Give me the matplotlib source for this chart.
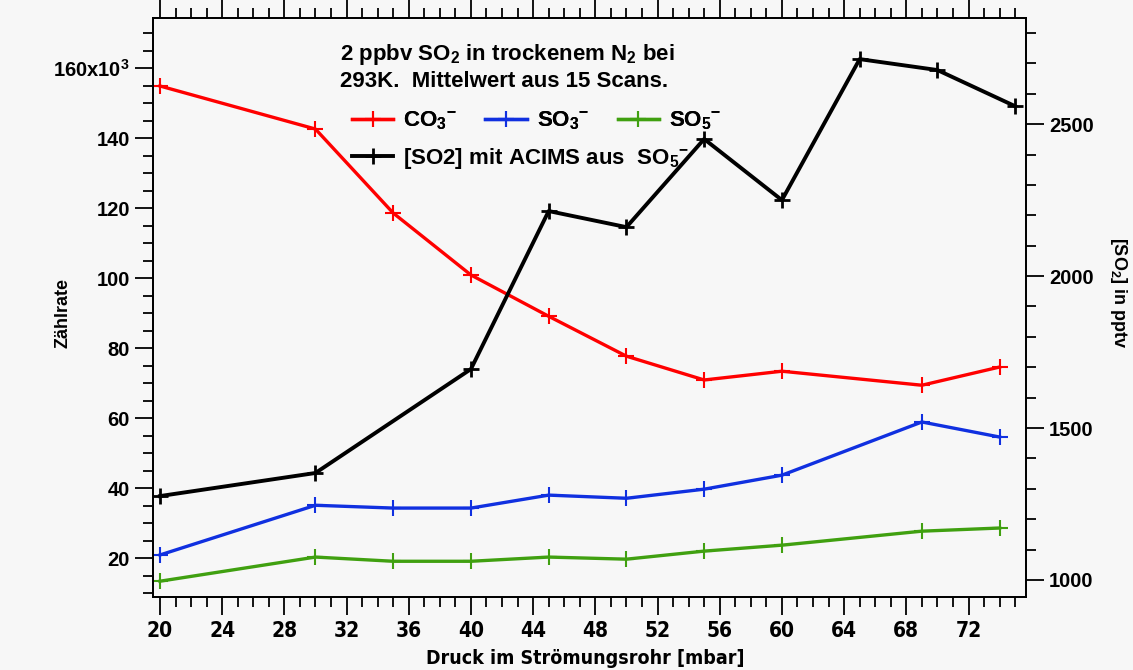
import matplotlib
matplotlib.use('Agg')
import matplotlib.pyplot as plt
import matplotlib.ticker as plticker

# pressure [mbar]
p_ions = [20, 30, 35, 40, 45, 50, 55, 60, 69, 74]
co3 = [154.9, 142.6, 118.6, 100.9, 89.1, 77.7, 70.9, 73.4, 69.4, 74.6]
so3 = [20.9, 35.1, 34.3, 34.3, 38.0, 37.1, 39.7, 43.7, 58.9, 54.6]
so5 = [13.4, 20.3, 19.1, 19.1, 20.3, 19.7, 22.0, 23.7, 27.7, 28.6]

p_so2 = [20, 30, 40, 45, 50, 55, 60, 65, 70, 75]
so2 = [1276, 1352, 1694, 2214, 2161, 2451, 2250, 2714, 2678, 2559]

bg = '#f7f7f7'
plt.rcParams['font.family'] = ['Liberation Sans', 'DejaVu Sans']
plt.rcParams['font.weight'] = 'bold'
plt.rcParams['mathtext.fontset'] = 'custom'
plt.rcParams['mathtext.rm'] = 'Liberation Sans:bold'
plt.rcParams['mathtext.it'] = 'Liberation Sans:bold'
plt.rcParams['mathtext.bf'] = 'Liberation Sans:bold'
plt.rcParams['mathtext.default'] = 'rm'

fig = plt.figure(figsize=(11.33, 6.70), dpi=100, facecolor=bg)
ax = fig.add_axes([0.135, 0.109, 0.7706, 0.864])
ax.set_facecolor(bg)
ax2 = ax.twinx()

lw = 2.4
ms = 12
l1, = ax.plot(p_ions, co3, color='#ff0000', lw=lw, marker='+', ms=ms, mew=1.5)
l2, = ax.plot(p_ions, so3, color='#1030e0', lw=lw, marker='+', ms=ms, mew=1.5)
l3, = ax.plot(p_ions, so5, color='#40a010', lw=lw, marker='+', ms=ms, mew=1.5)
l4, = ax2.plot(p_so2, so2, color='black', lw=2.8, marker='+', ms=ms, mew=2)

ax.set_xlim(19.55, 75.7)
ax.set_ylim(8.9, 174.3)
ax2.set_ylim(944, 2849)

ax.xaxis.set_major_locator(plticker.MultipleLocator(4))
ax.xaxis.set_minor_locator(plticker.MultipleLocator(1))
ax.yaxis.set_major_locator(plticker.MultipleLocator(20))
ax.yaxis.set_minor_locator(plticker.MultipleLocator(5))
ax2.yaxis.set_major_locator(plticker.MultipleLocator(500))
ax2.yaxis.set_minor_locator(plticker.MultipleLocator(100))

def yfmt(v, pos):
    if abs(v - 160) < 1e-6:
        return '160x10$^3$'
    return '%d' % v
ax.yaxis.set_major_formatter(plticker.FuncFormatter(yfmt))

ax.tick_params(axis='x', which='both', direction='out', top=True, bottom=True,
               labeltop=False, width=1.3)
ax.tick_params(axis='x', which='major', length=13, pad=4)
ax.tick_params(axis='x', which='minor', length=7)
ax.tick_params(axis='y', which='major', direction='out', length=13, width=1.3, labelsize=14.5)
ax.tick_params(axis='y', which='minor', direction='out', length=7, width=1.3)
ax2.tick_params(axis='y', which='major', direction='out', length=13, width=1.3, labelsize=14.5)
ax2.tick_params(axis='y', which='minor', direction='out', length=7, width=1.3)
for lab in ax.get_xticklabels():
    lab.set_family('DejaVu Sans')
    lab.set_stretch('condensed')
    lab.set_fontsize(15)
for a in (ax, ax2):
    for s in a.spines.values():
        s.set_linewidth(1.3)

ax.set_xlabel('Druck im Strömungsrohr [mbar]', family='DejaVu Sans',
              stretch='condensed', fontsize=14, fontweight='bold')
ax.xaxis.set_label_coords(0.495, -0.090)
ax.set_ylabel('Zählrate', fontsize=13, fontweight='bold')
ax.yaxis.set_label_coords(-0.093, 0.49)
ax2.set_ylabel('[SO$_2$] in pptv', fontsize=13, fontweight='bold', rotation=-90)
ax2.yaxis.set_label_coords(1.118, 0.525)

ax.text(0.214, 0.958, '2 ppbv SO$_2$ in trockenem N$_2$ bei\n293K.  Mittelwert aus 15 Scans.',
        transform=ax.transAxes, fontsize=16, fontweight='bold', va='top',
        linespacing=1.2)

leg1 = ax.legend([l1, l2, l3], ['CO$_3{}^{-}$', 'SO$_3{}^{-}$', 'SO$_5{}^{-}$'],
                 ncol=3, loc='upper left', bbox_to_anchor=(0.228, 0.842),
                 frameon=False, fontsize=16, handlelength=1.85, borderpad=0,
                 borderaxespad=0, columnspacing=1.3, handletextpad=0.45)
ax.add_artist(leg1)
ax2.legend([l4], ['[SO2] mit ACIMS aus  SO$_5{}^{-}$'], loc='upper left',
           bbox_to_anchor=(0.228, 0.779), frameon=False, fontsize=16,
           handlelength=1.85, borderpad=0, borderaxespad=0, handletextpad=0.45)

fig.savefig('out.png', dpi=100, facecolor=bg)
